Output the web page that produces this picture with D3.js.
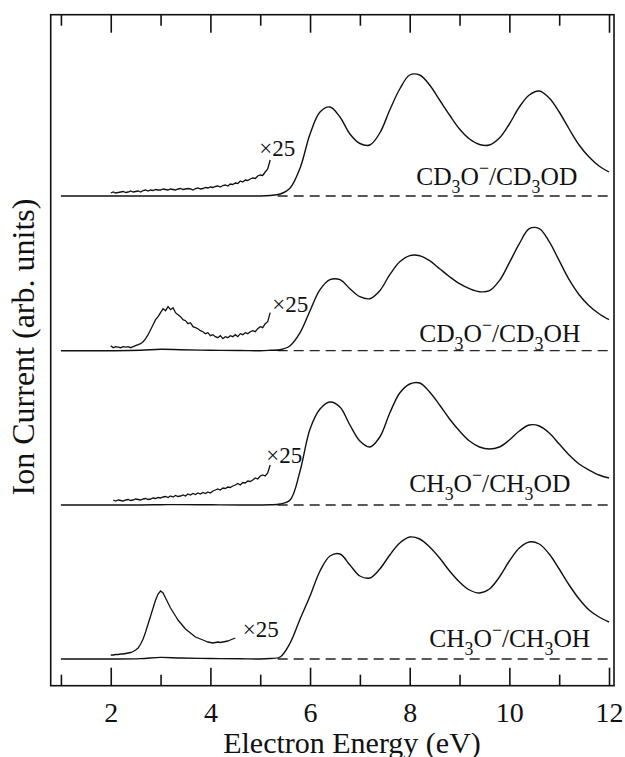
<!DOCTYPE html>
<html>
<head>
<meta charset="utf-8">
<style>
  body { margin: 0; background: #fff; }
  text { font-family: "Liberation Serif", "Times New Roman", serif; fill: #111; }
</style>
<script src="https://d3js.org/d3.v7.min.js"></script>
</head>
<body>
<svg id="chart" width="625" height="757"></svg>
<script>
// ---- data (heights in arb. units, 1 unit = tallest-peak scale) ----
var panelNames = ["CD_3O^\u2212/CD_3OD", "CD_3O^\u2212/CD_3OH", "CH_3O^\u2212/CH_3OD", "CH_3O^\u2212/CH_3OH"];

var energyMain = [1.0, 2.0, 2.6, 3.0, 3.4, 4.0, 4.6,
  5.0, 5.2, 5.4, 5.6, 5.8, 6.0, 6.2, 6.4, 6.6, 6.8, 7.0, 7.2, 7.4, 7.6, 7.8, 8.0, 8.2, 8.4,
  8.6, 8.8, 9.0, 9.2, 9.4, 9.6, 9.8, 10.0, 10.2, 10.4, 10.6, 10.8, 11.0, 11.2, 11.4, 11.6, 11.8, 12.0];

var mainCD3OD = [0, 0, 0, 0, 0, 0, 0,
  0, .005, .02, .08, .28, .62, .84, .89, .79, .62, .525, .51, .63, .86, 1.07, 1.21, 1.21, 1.11,
  .96, .81, .67, .57, .515, .51, .58, .72, .89, 1.01, 1.05, .98, .84, .67, .51, .39, .30, .24];
var mainCD3OH = [0, 0, .004, .014, .01, .004, .002,
  0, .004, .01, .05, .18, .40, .61, .71, .71, .62, .54, .52, .60, .76, .89, .95, .95, .90,
  .82, .74, .67, .62, .59, .60, .70, .88, 1.07, 1.22, 1.22, 1.09, .90, .71, .56, .45, .37, .31];
var mainCH3OD = [0, 0, 0, .003, .004, .002, 0,
  0, .002, .01, .05, .34, .76, .96, 1.03, .98, .80, .64, .58, .68, .92, 1.12, 1.21, 1.22, 1.13,
  1.00, .86, .74, .64, .58, .56, .58, .65, .74, .80, .79, .72, .61, .50, .41, .35, .30, .27];
var mainCH3OH = [0, 0, .004, .016, .01, .005, .002,
  0, .005, .02, .16, .40, .63, .88, 1.03, 1.05, .94, .83, .81, .90, 1.04, 1.16, 1.22, 1.20, 1.12,
  1.01, .88, .77, .69, .66, .70, .82, .98, 1.11, 1.17, 1.15, 1.05, .90, .74, .60, .49, .42, .37];

// x25 magnified low-energy traces, sampled every 0.05 eV from their start energy
var x25Step = 0.05;
var x25Start = [2.0, 2.0, 2.05, 2.0];
var x25CD3OD = [.03, .04, .03, .035, .04, .045, .035, .04, .05, .04, .045, .05, .04, .055, .06,
  .05, .06, .055, .065, .06, .06, .07, .065, .06, .07, .065, .06, .07, .075, .065,
  .07, .075, .07, .06, .075, .08, .07, .075, .085, .08, .09, .085, .095, .10, .09,
  .105, .11, .10, .12, .115, .13, .125, .15, .14, .16, .155, .17, .18, .175, .20,
  .21, .205, .24, .27, .36];
var x25CD3OH = [.05, .03, .04, .035, .03, .04, .035, .04, .03, .04, .05, .06, .07, .09, .12,
  .16, .21, .26, .31, .34, .38, .42, .40, .44, .41, .43, .38, .36, .34, .31,
  .30, .27, .28, .24, .23, .22, .20, .19, .17, .18, .15, .16, .14, .13, .15,
  .12, .14, .13, .15, .14, .16, .14, .17, .16, .18, .17, .19, .20, .19, .22,
  .24, .23, .27, .29, .38];
var x25CH3OD = [.05, .04, .05, .045, .04, .05, .055, .045, .05, .06, .055, .05, .06, .065, .055,
  .06, .07, .065, .075, .07, .08, .085, .075, .09, .08, .095, .085, .09, .10, .09,
  .11, .10, .115, .105, .12, .11, .125, .115, .13, .12, .14, .15, .16, .15, .17,
  .165, .18, .175, .19, .20, .215, .20, .225, .22, .24, .235, .25, .27, .26, .29,
  .30, .29, .32, .40];
var x25CH3OH = [.04, .04, .045, .045, .05, .05, .055, .06, .065, .075,
  .09, .11, .15, .20, .27, .35, .43, .51, .59, .65,
  .68, .66, .61, .56, .51, .47, .43, .39, .36, .33,
  .30, .28, .26, .24, .22, .21, .20, .19, .18, .17,
  .165, .16, .165, .17, .165, .17, .175, .18, .19, .20, .21];

var tickValues = [1, 2, 3, 4, 5, 6, 7, 8, 9, 10, 11, 12];
var tickLabels = ["2", "4", "6", "8", "10", "12"];

var mainSeries = [mainCD3OD, mainCD3OH, mainCH3OD, mainCH3OH];
var x25Series = [x25CD3OD, x25CD3OH, x25CH3OD, x25CH3OH];

// ---- layout ----
var panelOffset = [4.63, 3.083, 1.54, 0];
var nameAt = [[8.13, 0.11], [8.19, 0.087], [7.99, 0.13], [8.39, 0.12]];
var x25At = [[4.98, 0.40], [5.24, 0.39], [5.12, 0.42], [4.65, 0.22]];
var dashFrom = 5.35;

var svg = d3.select("#chart");
var plotLeft = 50.7, plotRight = 614, plotTop = 14.7, plotBottom = 685.7;

var x = d3.scaleLinear().domain([0.795, 12.1]).range([plotLeft, plotRight]);
var y = d3.scaleLinear().domain([-0.267, 6.443]).range([plotBottom, plotTop]);

var line = d3.line()
  .x(function(d) { return x(d[0]); })
  .y(function(d) { return y(d[1]); });

function chem(sel, str, fs) {
  var re = /([_^])(.)|([^_^]+)/g, m, shift = 0;
  while ((m = re.exec(str)) !== null) {
    if (m[3]) {
      sel.append("tspan").attr("dy", -shift).style("font-size", fs + "px").text(m[3]);
      shift = 0;
    } else {
      var s = m[1] === "_" ? 0.3 * fs : -0.42 * fs;
      sel.append("tspan").attr("dy", s - shift).style("font-size", (fs * 0.7) + "px").text(m[2]);
      shift = s;
    }
  }
}

panelNames.forEach(function(name, i) {
  var off = panelOffset[i];
  var g = svg.append("g");

  // dashed baseline
  g.append("line")
    .attr("x1", x(dashFrom)).attr("x2", x(12))
    .attr("y1", y(off)).attr("y2", y(off))
    .attr("stroke", "#222").attr("stroke-width", 1.3)
    .attr("stroke-dasharray", "10,6");

  var mainPts = energyMain.map(function(e, j) { return [e, off + mainSeries[i][j]]; });
  g.append("path")
    .attr("d", line.curve(d3.curveCatmullRom.alpha(0.5))(mainPts))
    .attr("fill", "none").attr("stroke", "#111").attr("stroke-width", 1.4);

  var zPts = x25Series[i].map(function(v, j) { return [x25Start[i] + j * x25Step, off + v]; });
  g.append("path")
    .attr("d", line.curve(d3.curveLinear)(zPts))
    .attr("fill", "none").attr("stroke", "#111").attr("stroke-width", 1.3);

  g.append("text")
    .attr("x", x(x25At[i][0])).attr("y", y(off + x25At[i][1]))
    .style("font-size", "23px")
    .text("\u00d725");

  var t = g.append("text")
    .attr("x", x(nameAt[i][0])).attr("y", y(off + nameAt[i][1]));
  chem(t, name, 25.5);
});

// frame
svg.append("rect")
  .attr("x", plotLeft).attr("y", plotTop)
  .attr("width", plotRight - plotLeft).attr("height", plotBottom - plotTop)
  .attr("fill", "none").attr("stroke", "#111").attr("stroke-width", 1.6);

var major = tickValues.filter(function(v) { return v % 2 === 0; });
var minor = tickValues.filter(function(v) { return v % 2 === 1; });

var axB = svg.append("g").attr("transform", "translate(0," + plotBottom + ")")
  .call(d3.axisBottom(x).tickValues(major).tickSizeInner(-18).tickSizeOuter(0).tickPadding(16)
    .tickFormat(function(d, k) { return tickLabels[k]; }));
svg.append("g").attr("transform", "translate(0," + plotBottom + ")")
  .call(d3.axisBottom(x).tickValues(minor).tickSizeInner(-11).tickSizeOuter(0).tickFormat(""));
svg.append("g").attr("transform", "translate(0," + plotTop + ")")
  .call(d3.axisTop(x).tickValues(major).tickSizeInner(-18).tickSizeOuter(0).tickFormat(""));
svg.append("g").attr("transform", "translate(0," + plotTop + ")")
  .call(d3.axisTop(x).tickValues(minor).tickSizeInner(-11).tickSizeOuter(0).tickFormat(""));

svg.selectAll(".domain").remove();
svg.selectAll(".tick line").attr("stroke", "#111").attr("stroke-width", 1.6);
axB.selectAll("text")
  .style("font-family", "'Liberation Serif', serif")
  .style("font-size", "28px").attr("fill", "#111");

svg.append("text")
  .attr("x", 352).attr("y", 753)
  .attr("text-anchor", "middle")
  .style("font-size", "30px")
  .text("Electron Energy (eV)");

svg.append("text")
  .attr("transform", "translate(34,347) rotate(-90)")
  .attr("text-anchor", "middle")
  .style("font-size", "32px")
  .text("Ion Current (arb. units)");
</script>
</body>
</html>
